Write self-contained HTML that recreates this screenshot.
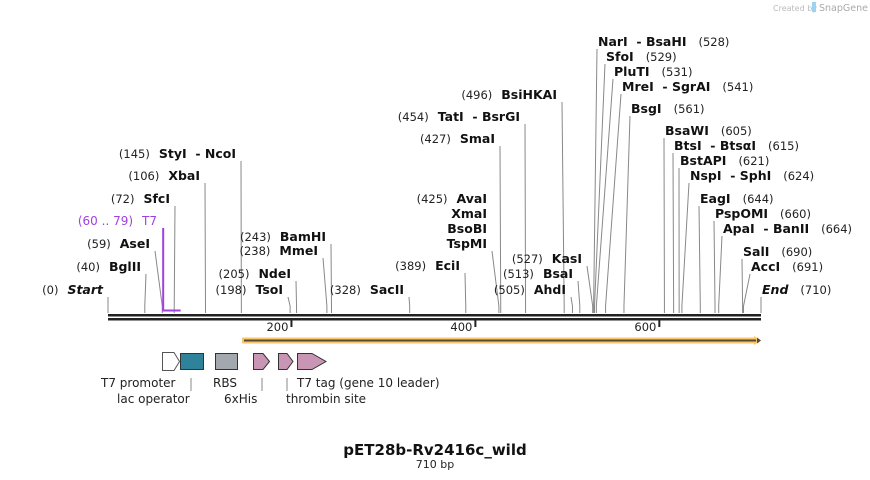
<!DOCTYPE html>
<html><head><meta charset="utf-8"><style>
body{margin:0;background:#fff;}
svg{display:block;font-family:"DejaVu Sans","Liberation Sans",sans-serif;}
.n{font-size:11.5px;fill:#222;}
.b{font-size:12.5px;font-weight:bold;fill:#111;}
.f{font-size:12px;fill:#222;}
</style></head><body>
<svg id="map" width="870" height="480" viewBox="0 0 870 480">
<text x="773" y="11" font-size="8" fill="#bbb">Created by</text>
<rect x="812" y="2" width="4" height="10" fill="#9cd3f0"></rect>
<text x="819" y="11" font-size="9.5" fill="#aaa">SnapGene</text>
<g id="sites"></g>
<g id="backbone"></g>
<g id="features"></g>
<text x="435" y="455" text-anchor="middle" font-size="15" font-weight="bold" fill="#111">pET28b-Rv2416c_wild</text>
<text x="435" y="468" text-anchor="middle" font-size="11" fill="#222">710 bp</text>
</svg>
<script>
const seqLength = 710;
const siteNames = ["Start","BglII","AseI","SfcI","XbaI","StyI  - NcoI","TsoI","NdeI","MmeI","BamHI","SacII","EciI","AvaI","SmaI","TatI  - BsrGI","BsiHKAI","AhdI","BsaI","KasI","NarI  - BsaHI","SfoI","PluTI","MreI  - SgrAI","BsgI","BsaWI","BtsI  - BtsαI","BstAPI","NspI  - SphI","EagI","PspOMI","ApaI  - BanII","SalI","AccI","End"];
const sitePositions = [0,40,59,72,106,145,198,205,238,243,328,389,425,427,454,496,505,513,527,528,529,531,541,561,605,615,621,624,644,660,664,690,691,710];
const tickValues = [200,400,600];
const x0 = 108, x1 = 761, backboneY = 314;
function xs(p){ return x0 + (p/seqLength)*(x1-x0); }
// label layout: [side, baseline y, label line x]
const labelLayout = [["L",294,108],["L",271,146],["L",248,155],["L",203,175],["L",180,205],["L",158,241],["L",294,288],["L",278,296],["L",255,323],["L",241,331],["L",294,409],["L",270,465],["L",203,492],["L",143,500],["L",121,525],["L",99,562],["L",294,571],["L",278,578],["L",263,587],["R",46,597],["R",61,605],["R",76,613],["R",91,621],["R",113,630],["R",135,664],["R",150,673],["R",165,679],["R",180,689],["R",203,699],["R",218,714],["R",233,722],["R",256,742],["R",271,750],["R",294,761]];
const NS="http://www.w3.org/2000/svg";
function mk(tag, attrs, parent){ const e=document.createElementNS(NS,tag); for(const k in attrs) e.setAttribute(k,attrs[k]); parent.appendChild(e); return e; }
const gs=document.getElementById('sites');
siteNames.forEach((nm,i)=>{
  const p=sitePositions[i], L=labelLayout[i];
  const sx=xs(p), lx=L[2], by=L[1];
  let topY = by+3;
  const extra = (nm==="AvaI") ? ["XmaI","BsoBI","TspMI"] : [];
  if(extra.length) topY = by+15*extra.length+3;
  const ln=mk('polyline',{points:`${lx},${topY} ${sx},${Math.max(topY,306)} ${sx},313`,fill:'none',stroke:'#888','stroke-width':1},gs);
  
  
  const isEnd = (nm==="Start"||nm==="End");
  const t=mk('text',{y:by},gs);
  
  
  const num='('+p+')';
  const nameStyle = isEnd ? 'font-style:italic;font-weight:bold;font-size:12.5px' : 'font-weight:bold;font-size:12.5px';
  if(L[0]==="L"){
    t.setAttribute('x',lx-5); t.setAttribute('text-anchor','end');
    t.innerHTML=`<tspan class="n">${num}</tspan><tspan dx="9" style="${nameStyle}" fill="#111">${nm.replace(/  /g,'\u00a0\u00a0')}</tspan>`;
    extra.forEach((e,j)=>{ const t2=mk('text',{x:lx-5,y:by+15*(j+1),'text-anchor':'end',class:'b'},gs); t2.textContent=e;
      
       });
  } else {
    t.setAttribute('x',lx+1);
    t.innerHTML=`<tspan style="${nameStyle}" fill="#111">${nm.replace(/  /g,'\u00a0\u00a0')}</tspan><tspan dx="12" class="n">${num}</tspan>`;
  }
});
mk('polyline',{points:`${xs(60)},228 ${xs(60)},310.5 ${xs(79)},310.5`,fill:'none',stroke:'#a040e0','stroke-width':2,},gs);
mk('text',{x:157,y:225,'text-anchor':'end',fill:'#a040e0','font-size':'12',},gs).innerHTML='(60 .. 79)<tspan dx="9">T7</tspan>';
const gb=document.getElementById('backbone');
mk('rect',{x:x0,y:backboneY,width:x1-x0,height:2.5,fill:'#222',},gb);
mk('rect',{x:x0,y:backboneY+4,width:x1-x0,height:2.5,fill:'#222',},gb);
tickValues.forEach(v=>{
  const tx=xs(v)-1.5;
  const r=mk('rect',{x:tx,y:320,width:2,height:7,fill:'#222'},gb);
   
  const t=mk('text',{x:tx-2,y:331,'text-anchor':'end','font-size':'11.5',fill:'#222'},gb); t.textContent=v;
   
});
const gf=document.getElementById('features');
mk('rect',{x:242,y:337.5,width:514,height:6,fill:'#f7c66f',rx:1,},gf);
mk('polygon',{points:'754,336 761,340.5 754,345',fill:'#f7c66f'},gf);
mk('line',{x1:244,y1:340.5,x2:756,y2:340.5,stroke:'#5a4a30','stroke-width':2,},gf);
mk('polygon',{points:'757,337.5 761,340.5 757,343.5',fill:'#5a4a30'},gf);
mk('polygon',{points:'162.5,352.5 174,352.5 179.5,361.5 174,370.5 162.5,370.5',fill:'#fff',stroke:'#555',},gf);
mk('rect',{x:180.5,y:353.5,width:23,height:16,fill:'#2e8299',stroke:'#333',},gf);
mk('rect',{x:215.5,y:353.5,width:22,height:16,fill:'#a3a8ae',stroke:'#333',},gf);
mk('polygon',{points:'253.5,353.5 263,353.5 269.5,361.5 263,369.5 253.5,369.5',fill:'#c896b4',stroke:'#333',},gf);
mk('polygon',{points:'278.5,353.5 287,353.5 293,361.5 287,369.5 278.5,369.5',fill:'#c896b4',stroke:'#333',},gf);
mk('polygon',{points:'297.5,353.5 312,353.5 326,361.5 312,369.5 297.5,369.5',fill:'#c896b4',stroke:'#333',},gf);
[[191,"lac"],[262,"his"],[287,"thr"]].forEach(a=>{mk('line',{x1:a[0],y1:378,x2:a[0],y2:391,stroke:'#888',},gf);});
[["T7 promoter",101,387],["lac operator",117,403],["RBS",213,387],["6xHis",224,403],["T7 tag (gene 10 leader)",297,387],["thrombin site",286,403]].forEach(a=>{
  const t=mk('text',{x:a[1],y:a[2],class:'f'},gf); t.textContent=a[0];
  
  
});
</script>
</body></html>
